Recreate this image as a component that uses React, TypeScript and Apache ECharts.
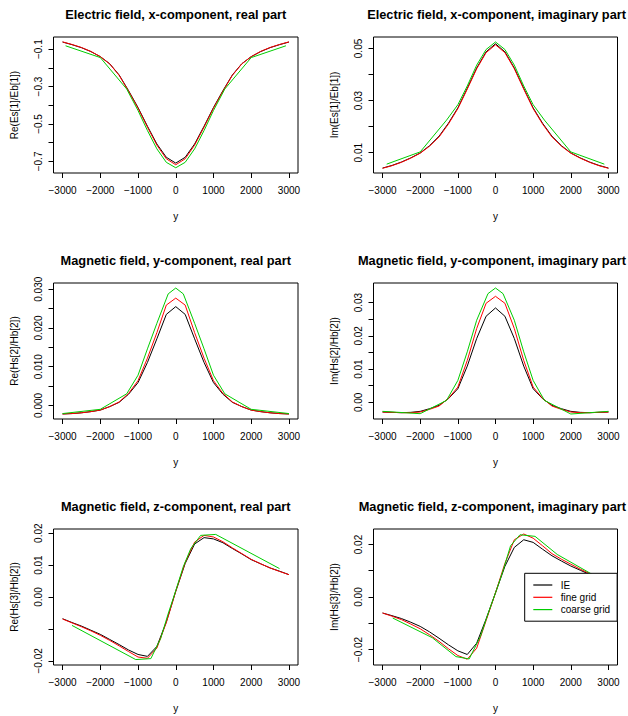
import React, { useEffect, useRef } from "react";
import * as echarts from "echarts";

// ---------- data ----------
const X_FINE = [-3000, -2750, -2500, -2250, -2000, -1750, -1500, -1250, -1000, -750, -500, -250, 0, 250, 500, 750, 1000, 1250, 1500, 1750, 2000, 2250, 2500, 2750, 3000];
const X_TICKS = [-3000, -2000, -1000, 0, 1000, 2000, 3000];
const SERIES_NAMES = ["IE", "fine grid", "coarse grid"];

const TITLES = [
  "Electric field, x-component, real part",
  "Electric field, x-component, imaginary part",
  "Magnetic field, y-component, real part",
  "Magnetic field, y-component, imaginary part",
  "Magnetic field, z-component, real part",
  "Magnetic field, z-component, imaginary part",
];
const Y_NAMES = ["Re(Es[1]/Eb[1])", "Im(Es[1]/Eb[1])", "Re(Hs[2]/Hb[2])", "Im(Hs[2]/Hb[2])", "Re(Hs[3]/Hb[2])", "Im(Hs[3]/Hb[2])"];

// Panel 1: Re Ex
const P1_IE = [-0.062, -0.076, -0.092, -0.113, -0.14, -0.178, -0.238, -0.322, -0.412, -0.512, -0.607, -0.678, -0.709, -0.678, -0.607, -0.512, -0.412, -0.322, -0.238, -0.178, -0.14, -0.113, -0.092, -0.076, -0.062];
const P1_FINE = [-0.061, -0.075, -0.091, -0.112, -0.14, -0.179, -0.24, -0.325, -0.416, -0.517, -0.613, -0.686, -0.718, -0.686, -0.613, -0.517, -0.416, -0.325, -0.24, -0.179, -0.14, -0.112, -0.091, -0.075, -0.061];
const P1_COARSE_X = [-2920, -2000, -1300, -1000, -750, -500, -250, 0, 250, 500, 750, 1000, 1300, 2000, 2920];
const P1_COARSE = [-0.082, -0.145, -0.313, -0.428, -0.535, -0.633, -0.705, -0.734, -0.705, -0.633, -0.535, -0.428, -0.313, -0.145, -0.082];
const P1_Y_TICKS = [-0.7, -0.6, -0.5, -0.4, -0.3, -0.2, -0.1];
const P1_Y_LABELS = [-0.7, -0.5, -0.3, -0.1];

// Panel 2: Im Ex
const P2_IE = [0.0041, 0.0051, 0.0064, 0.008, 0.0099, 0.0127, 0.0163, 0.0213, 0.0272, 0.0347, 0.0425, 0.0487, 0.0518, 0.0487, 0.0425, 0.0347, 0.0272, 0.0213, 0.0163, 0.0127, 0.0099, 0.008, 0.0064, 0.0051, 0.0041];
const P2_FINE = [0.004, 0.005, 0.0063, 0.0079, 0.0098, 0.0125, 0.016, 0.021, 0.0269, 0.0344, 0.0422, 0.0484, 0.0514, 0.0484, 0.0422, 0.0344, 0.0269, 0.021, 0.016, 0.0125, 0.0098, 0.0079, 0.0063, 0.005, 0.004];
const P2_COARSE_X = [-2890, -2000, -1300, -1000, -750, -500, -250, 0, 250, 500, 750, 1000, 1300, 2000, 2890];
const P2_COARSE = [0.0056, 0.0103, 0.0225, 0.0284, 0.0356, 0.0436, 0.0496, 0.0525, 0.0496, 0.0436, 0.0356, 0.0284, 0.0225, 0.0103, 0.0056];
const P2_Y_TICKS = [0.01, 0.02, 0.03, 0.04, 0.05];
const P2_Y_LABELS = [0.01, 0.03, 0.05];

// Panel 3: Re Hy
const P3_IE = [-0.0022, -0.0021, -0.0019, -0.0016, -0.0012, -0.0003, 0.0008, 0.0029, 0.0059, 0.0111, 0.0172, 0.0235, 0.0255, 0.0235, 0.0172, 0.0111, 0.0059, 0.0029, 0.0008, -0.0003, -0.0012, -0.0016, -0.0019, -0.0021, -0.0022];
const P3_FINE = [-0.0022, -0.0021, -0.0019, -0.0016, -0.0012, -0.0003, 0.0009, 0.0031, 0.0064, 0.0122, 0.0188, 0.0259, 0.0277, 0.0259, 0.0188, 0.0122, 0.0064, 0.0031, 0.0009, -0.0003, -0.0012, -0.0016, -0.0019, -0.0021, -0.0022];
const P3_COARSE_X = [-3000, -2000, -1300, -1000, -750, -500, -200, 0, 200, 500, 750, 1000, 1300, 2000, 3000];
const P3_COARSE = [-0.0021, -0.001, 0.003, 0.0078, 0.0146, 0.0212, 0.0288, 0.0303, 0.0288, 0.0212, 0.0146, 0.0078, 0.003, -0.001, -0.0021];
const P3_Y_TICKS = [0, 0.005, 0.01, 0.015, 0.02, 0.025, 0.03];
const P3_Y_LABELS = [0, 0.01, 0.02, 0.03];

// Panel 4: Im Hy
const P4_IE = [-0.0029, -0.003, -0.0031, -0.003, -0.0027, -0.0019, -0.0009, 0.0011, 0.0041, 0.0109, 0.0192, 0.0259, 0.0284, 0.0259, 0.0192, 0.0109, 0.0041, 0.0011, -0.0009, -0.0019, -0.0027, -0.003, -0.0031, -0.003, -0.0029];
const P4_FINE = [-0.0029, -0.003, -0.0031, -0.0031, -0.0029, -0.0021, -0.0011, 0.0012, 0.0046, 0.0126, 0.0222, 0.0298, 0.0319, 0.0298, 0.0222, 0.0126, 0.0046, 0.0012, -0.0011, -0.0021, -0.0029, -0.0031, -0.0031, -0.003, -0.0029];
const P4_COARSE_X = [-3000, -2000, -1300, -1000, -750, -500, -200, 0, 200, 500, 750, 1000, 1300, 2000, 3000];
const P4_COARSE = [-0.0027, -0.0034, 0.0006, 0.0066, 0.0152, 0.0247, 0.0327, 0.0344, 0.0327, 0.0247, 0.0152, 0.0066, 0.0006, -0.0035, -0.0027];
const P4_Y_TICKS = [0, 0.005, 0.01, 0.015, 0.02, 0.025, 0.03];
const P4_Y_LABELS = [0, 0.01, 0.02, 0.03];

// Panel 5: Re Hz
const P5_IE = [-0.0068, -0.008, -0.0091, -0.0104, -0.0117, -0.0133, -0.0149, -0.0166, -0.018, -0.0186, -0.0155, -0.0078, 0.0018, 0.0105, 0.0166, 0.0186, 0.0182, 0.017, 0.0152, 0.0135, 0.0117, 0.0104, 0.0091, 0.0081, 0.007];
const P5_FINE = [-0.0069, -0.0081, -0.0093, -0.0106, -0.012, -0.0136, -0.0153, -0.0171, -0.0188, -0.0192, -0.016, -0.008, 0.0018, 0.0108, 0.0172, 0.0193, 0.0188, 0.0173, 0.0154, 0.0136, 0.0118, 0.0104, 0.0091, 0.008, 0.007];
const P5_COARSE_X = [-2750, -1060, -660, -400, -200, 0, 200, 400, 660, 1060, 2750];
const P5_COARSE = [-0.0089, -0.0196, -0.0193, -0.013, -0.0052, 0.002, 0.0095, 0.0152, 0.0193, 0.0196, 0.0089];
const P5_Y_TICKS = [-0.02, -0.01, 0, 0.01, 0.02];
const P5_Y_LABELS = [-0.02, 0, 0.01, 0.02];

// Panel 6: Im Hz
const P6_IE = [-0.0061, -0.0071, -0.0082, -0.0096, -0.0112, -0.0133, -0.0157, -0.0182, -0.0205, -0.0219, -0.0176, -0.0084, 0.0016, 0.0117, 0.0189, 0.0218, 0.0208, 0.0182, 0.0157, 0.0137, 0.0118, 0.0102, 0.0086, 0.0074, 0.0063];
const P6_FINE = [-0.0061, -0.0073, -0.0086, -0.0103, -0.0121, -0.0144, -0.0169, -0.0197, -0.0223, -0.0237, -0.0195, -0.009, 0.0016, 0.0128, 0.0218, 0.024, 0.0224, 0.0195, 0.0165, 0.0144, 0.0125, 0.0106, 0.0089, 0.0075, 0.0063];
const P6_COARSE_X = [-2730, -1680, -1050, -700, -400, -200, 0, 200, 400, 650, 1050, 1640, 2730];
const P6_COARSE = [-0.008, -0.0155, -0.0227, -0.0236, -0.015, -0.0065, 0.0016, 0.01, 0.0195, 0.0237, 0.0231, 0.0162, 0.0073];
const P6_Y_TICKS = [-0.02, -0.01, 0, 0.01, 0.02];
const P6_Y_LABELS = [-0.02, 0, 0.02];

// ---------- layout ----------
const FONT = "'Liberation Sans', Arial, Helvetica, sans-serif";
const COLORS = ["#000000", "#ff0000", "#00cd00"];
const COL_LEFT = [53.5, 373.5];
const COL_WIDTH = [244.5, 244];
const ROW_TOP = [37, 283, 529];
const PLOT_H = 136;

const PANELS = [
  { ie: P1_IE, fine: P1_FINE, cx: P1_COARSE_X, coarse: P1_COARSE, yMin: -0.762, yMax: -0.035, ticks: P1_Y_TICKS, labels: P1_Y_LABELS, dec: 1 },
  { ie: P2_IE, fine: P2_FINE, cx: P2_COARSE_X, coarse: P2_COARSE, yMin: 0.0022, yMax: 0.0544, ticks: P2_Y_TICKS, labels: P2_Y_LABELS, dec: 2 },
  { ie: P3_IE, fine: P3_FINE, cx: P3_COARSE_X, coarse: P3_COARSE, yMin: -0.0035, yMax: 0.0316, ticks: P3_Y_TICKS, labels: P3_Y_LABELS, dec: 3 },
  { ie: P4_IE, fine: P4_FINE, cx: P4_COARSE_X, coarse: P4_COARSE, yMin: -0.005, yMax: 0.0359, ticks: P4_Y_TICKS, labels: P4_Y_LABELS, dec: 2 },
  { ie: P5_IE, fine: P5_FINE, cx: P5_COARSE_X, coarse: P5_COARSE, yMin: -0.0213, yMax: 0.0213, ticks: P5_Y_TICKS, labels: P5_Y_LABELS, dec: 2 },
  { ie: P6_IE, fine: P6_FINE, cx: P6_COARSE_X, coarse: P6_COARSE, yMin: -0.0259, yMax: 0.0259, ticks: P6_Y_TICKS, labels: P6_Y_LABELS, dec: 2 },
];

const minus = (s: string) => s.replace("-", "\u2212");

function buildOption() {
  const grid: any[] = [];
  const xAxis: any[] = [];
  const yAxis: any[] = [];
  const series: any[] = [];
  const title: any[] = [];

  PANELS.forEach((p, i) => {
    const col = i % 2;
    const row = Math.floor(i / 2);
    const left = COL_LEFT[col];
    const width = COL_WIDTH[col];
    const top = ROW_TOP[row];
    grid.push({
      left,
      top,
      width,
      height: PLOT_H,
      show: true,
      borderColor: "#000",
      borderWidth: 1,
      backgroundColor: "transparent",
    });
    title.push({
      text: TITLES[i],
      left: col === 0 ? left + width / 2 : 626,
      top: top - 29,
      textAlign: col === 0 ? "center" : "right",
      padding: 0,
      textStyle: { fontFamily: FONT, fontSize: 12.8, fontWeight: "bold", color: "#000" },
    });
    xAxis.push({
      type: "value",
      gridIndex: i,
      position: "bottom",
      min: -3240,
      max: 3240,
      name: "y",
      nameLocation: "middle",
      nameGap: 38,
      nameTextStyle: { fontFamily: FONT, fontSize: 10, color: "#000" },
      axisLine: { show: false, onZero: false },
      splitLine: { show: false },
      axisTick: { show: true, inside: false, length: 5, customValues: X_TICKS, lineStyle: { color: "#000", width: 1 } },
      axisLabel: {
        show: true,
        customValues: X_TICKS,
        margin: 12,
        fontFamily: FONT,
        fontSize: 10,
        color: "#000",
        formatter: (v: number) => minus(String(v)),
      },
    });
    yAxis.push({
      type: "value",
      gridIndex: i,
      position: "left",
      min: p.yMin,
      max: p.yMax,
      name: Y_NAMES[i],
      nameLocation: "middle",
      nameGap: 34,
      nameRotate: 90,
      nameTextStyle: { fontFamily: FONT, fontSize: 10, color: "#000" },
      axisLine: { show: false, onZero: false },
      splitLine: { show: false },
      axisTick: { show: true, inside: false, length: 5, customValues: p.ticks, lineStyle: { color: "#000", width: 1 } },
      axisLabel: {
        show: true,
        customValues: p.labels,
        rotate: 90,
        margin: 10,
        fontFamily: FONT,
        fontSize: 10,
        color: "#000",
        formatter: (v: number) => minus(Number(v).toFixed(p.dec)),
      },
    });
    const sets = [
      X_FINE.map((x, k) => [x, p.ie[k]]),
      X_FINE.map((x, k) => [x, p.fine[k]]),
      p.cx.map((x, k) => [x, p.coarse[k]]),
    ];
    sets.forEach((data, s) => {
      series.push({
        type: "line",
        name: SERIES_NAMES[s],
        xAxisIndex: i,
        yAxisIndex: i,
        data,
        symbol: "none",
        showSymbol: false,
        color: COLORS[s],
        lineStyle: { color: COLORS[s], width: 1 },
        z: 2 + s,
      });
    });
  });

  return {
    animation: false,
    backgroundColor: "#fff",
    title,
    grid,
    xAxis,
    yAxis,
    series,
    legend: {
      show: true,
      data: SERIES_NAMES,
      orient: "vertical",
      left: 524.7,
      top: 573.3,
      icon: "rect",
      itemWidth: 19,
      itemHeight: 1.2,
      itemGap: 0.3,
      padding: [5.7, 7, 5.6, 8.6],
      backgroundColor: "#fff",
      borderColor: "#000",
      borderWidth: 1,
      borderRadius: 0,
      selectedMode: false,
      textStyle: { fontFamily: FONT, fontSize: 10, color: "#000", lineHeight: 12, padding: [0, 0, 0, 3.4] },
      z: 10,
    },
  };
}

export default function App() {
  const ref = useRef<HTMLDivElement>(null);
  useEffect(() => {
    if (!ref.current) return;
    const chart = echarts.init(ref.current, undefined, { renderer: "svg" });
    chart.setOption(buildOption() as any);
    return () => chart.dispose();
  }, []);
  return (
    <div
      ref={ref}
      style={{ position: "absolute", left: 0, top: 0, width: 628, height: 716, background: "#fff" }}
    />
  );
}
